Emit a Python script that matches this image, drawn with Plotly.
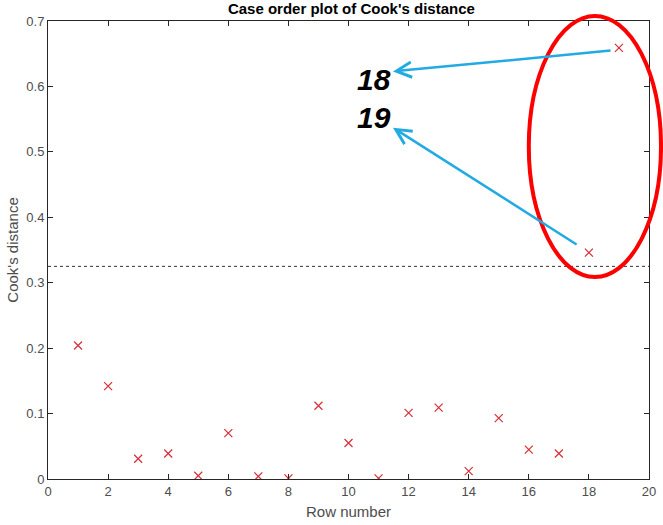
import plotly.graph_objects as go

rows = list(range(1, 20))
cooks_d = [0.204, 0.142, 0.031, 0.039, 0.005, 0.070, 0.004, 0.001, 0.112, 0.055,
           0.001, 0.101, 0.109, 0.012, 0.093, 0.045, 0.039, 0.346, 0.659]
threshold = 0.325
x_ticks = list(range(0, 21, 2))
y_ticks = [0, 0.1, 0.2, 0.3, 0.4, 0.5, 0.6, 0.7]

marker_color = "rgb(215,45,55)"
fig = go.Figure()
fig.add_trace(go.Scatter(
    x=rows, y=cooks_d, mode="markers",
    marker=dict(symbol="x-thin-open", size=8, color=marker_color,
                line=dict(color=marker_color, width=1.2)),
    showlegend=False,
))

font_family = "Liberation Sans, Arial"
axis_common = dict(
    showline=True, linecolor="#262626", linewidth=1, mirror="allticks",
    ticks="inside", ticklen=5, tickcolor="#262626",
    showgrid=False, zeroline=False, automargin=False, ticklabeloverflow="allow",
    tickfont=dict(family=font_family, size=13, color="#4d4d4d"),
)
fig.update_xaxes(range=[0, 20], tickvals=x_ticks,
                 title=dict(text="Row number", font=dict(family=font_family, size=15, color="#4d4d4d"), standoff=8),
                 **axis_common)
fig.update_yaxes(range=[0, 0.7], tickvals=y_ticks, ticktext=["0", "0.1", "0.2", "0.3", "0.4", "0.5", "0.6", "0.7"],
                 title=dict(text="Cook's distance", font=dict(family=font_family, size=15, color="#4d4d4d"), standoff=4),
                 **axis_common)

shapes = [
    dict(type="line", xref="x", yref="y", x0=0, x1=20, y0=threshold, y1=threshold,
         line=dict(color="#333333", width=1, dash="dot")),
    dict(type="circle", xref="paper", yref="paper", x0=0.800, x1=1.020, y0=0.441, y1=1.011,
         line=dict(color="#ff0000", width=4)),
]

arrow_color = "#22aae2"
annotations = [
    dict(x=11.48, y=0.623, ax=18.77, ay=0.655, xref="x", yref="y", axref="x", ayref="y",
         text="", showarrow=True, arrowhead=5, arrowsize=1.2, arrowwidth=2.5, arrowcolor=arrow_color),
    dict(x=11.48, y=0.537, ax=17.64, ay=0.357, xref="x", yref="y", axref="x", ayref="y",
         text="", showarrow=True, arrowhead=5, arrowsize=1.2, arrowwidth=2.5, arrowcolor=arrow_color),
    dict(x=10.85, y=0.610, xref="x", yref="y", text="<b><i>18</i></b>", showarrow=False,
         font=dict(family=font_family, size=30, color="black")),
    dict(x=10.85, y=0.553, xref="x", yref="y", text="<b><i>19</i></b>", showarrow=False,
         font=dict(family=font_family, size=30, color="black")),
]

fig.update_layout(
    width=663, height=525,
    margin=dict(l=48, r=14, t=21, b=46),
    paper_bgcolor="white", plot_bgcolor="white",
    title=dict(text="<b>Case order plot of Cook's distance</b>", x=0.53, xanchor="center",
               y=0.983, yanchor="middle",
               font=dict(family=font_family, size=15, color="black")),
    shapes=shapes, annotations=annotations,
)

fig.write_html("out.html")
